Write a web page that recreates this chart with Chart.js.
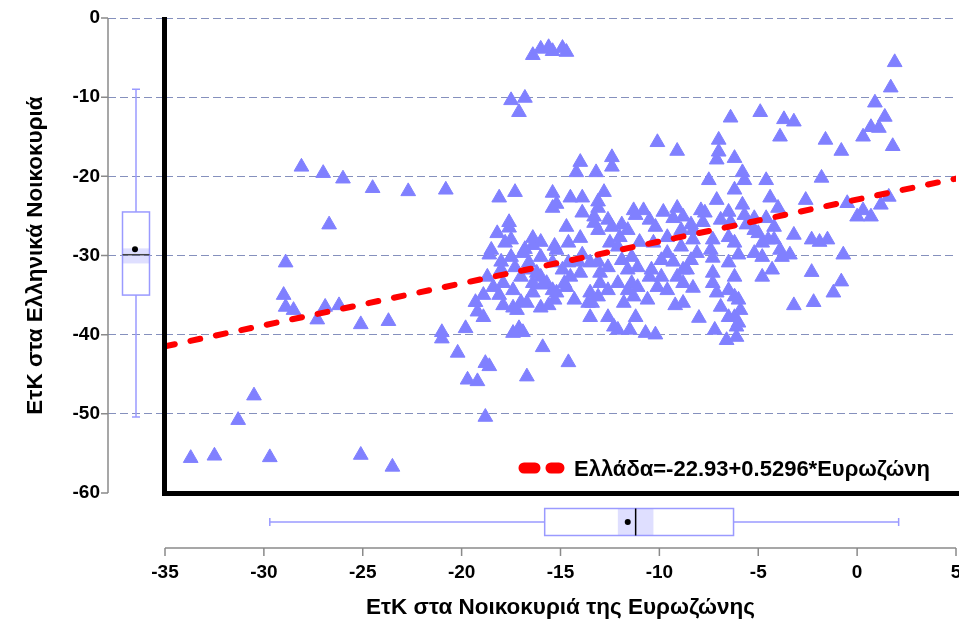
<!DOCTYPE html>
<html>
<head>
<meta charset="utf-8">
<script src="https://cdn.jsdelivr.net/npm/chart.js@4/dist/chart.umd.min.js"></script>
<style>
  html, body { margin: 0; padding: 0; background: #fff; }
</style>
</head>
<body>
<canvas id="scatterChart" width="959" height="625"></canvas>
<script>
// Ευρωζώνη (x) και Ελλάδα (y), τιμές όπως διαβάζονται από το διάγραμμα
const euroValues = [
  -33.7, -32.5, -31.3, -30.5, -29.7, -25.1, -23.5, -28.9, -29.0, -28.9, -28.5, -27.3, -26.9, -26.2, -25.1, -23.7,
  -28.1, -27.0, -26.0, -24.5, -22.7, -20.8, -26.7, -21.0, -21.0, -19.8, -20.2, -19.7, -19.2, -19.3, -19.2, -18.8,
  -18.8, -18.6, -18.9, -18.9, -18.7, -18.6, -18.5,
  -16.4, -16.0, -15.6, -15.4, -14.9, -14.7, -17.5, -16.8, -17.1, -18.1, -17.3, -15.4, -15.2, -17.6, -17.6, -18.2,
  -17.5, -17.8, -16.4, -16.0, -15.3, -16.8,
  -18.0, -17.9, -18.1, -17.9, -17.4, -17.0, -17.1, -17.4, -16.9, -16.7, -16.4, -16.0, -16.0, -15.6, -15.4, -15.4,
  -16.9, -16.0, -16.7, -15.9, -16.6, -15.2, -15.9, -15.3, -17.3, -16.4, -17.2,
  -10.1, -9.1, -14.0, -13.2, -12.4, -12.4, -14.2, -14.5, -13.9, -13.1, -12.8, -14.7, -14.6, -14.0, -13.9, -13.3,
  -13.1, -13.1, -12.6, -12.4, -11.9, -11.2, -10.8, -10.5, -10.2, -9.8, -9.1, -9.3, -8.8, -8.4,
  -14.9, -14.6, -14.1, -13.9, -13.5, -13.1, -12.6, -12.1, -11.9, -11.4, -11.1, -10.4, -9.9, -9.6, -9.3, -8.9,
  -8.8, -8.3, -8.1,
  -14.7, -14.5, -14.0, -13.5, -13.4, -13.1, -13.0, -12.3, -12.1, -11.6, -11.4, -11.2, -11.5, -10.6, -10.7, -10.2,
  -10.5, -10.1, -9.2, -9.1, -8.8, -8.3, -8.0, -14.6,
  1.9, 1.7, 0.9, 1.4, 0.7, 1.1, 0.3, 1.8, -1.6, -0.8, -6.4, -4.9, -3.7, -3.2, -3.9, -7.0, -7.0, -7.1, -6.2, -5.8,
  -5.7, -7.5, -4.6, -1.8, -6.2, -7.1, -4.4, -4.0, -2.6, -0.5, 0.0, 0.7, 1.2, 1.6, 0.3, -5.8, -7.9, -3.2, -2.3, -1.9,
  -1.5, -7.7, -7.8, -6.5, -6.4, -5.7, -5.6, -5.2, -4.6, -4.2, -6.5, -6.2, -5.0, -4.8, -4.5,
  -7.4, -7.3, -6.5, -6.0, -5.2, -4.8, -4.3, -3.8, -3.4, -0.7, -7.3, -7.3, -7.1, -6.9, -6.5, -6.2, -6.0, -6.2, -6.1,
  -7.2, -6.6, -6.1, -4.8, -3.2, -2.2, -2.3, -1.2, -0.8,
  -15.4, -13.3, -12.0, -11.6, -11.3, -11.0, -10.3, -9.6, -8.9, -7.3, -8.4, -12.5, -11.6, -11.1, -11.8, -11.3,
  -9.9, -9.6, -8.8, -8.6, -14.8, -15.2, -14.3, -13.6, -16.2, -17.0, -17.4, -16.4, -16.7, -15.7, -18.0, -17.5,
  -18.4, -13.0, -12.6, -12.1, -13.5, -12.6, -6.2, -5.9, -6.5, -6.0, -4.2, -3.9, -5.2, -8.3, -6.9
];
const greeceValues = [
  -55.6, -55.3, -50.8, -47.7, -55.5, -55.2, -56.7, -30.9, -35.0, -36.5, -36.9, -38.1, -36.5, -36.3, -38.7, -38.3,
  -18.8, -19.6, -20.3, -21.5, -21.9, -21.7, -26.1, -39.7, -40.5, -39.2, -42.3, -45.7, -45.9, -35.9, -37.1, -50.4,
  -43.6, -44.0, -35.0, -37.8, -32.7, -29.9, -29.3,
  -4.7, -3.9, -3.7, -4.2, -3.8, -4.3, -10.4, -10.1, -11.9, -22.7, -22.0, -22.1, -23.5, -25.8, -26.5, -27.2,
  -28.0, -28.4, -27.8, -28.3, -28.8, -29.2,
  -30.8, -33.5, -35.0, -36.3, -36.6, -35.9, -39.2, -39.8, -39.7, -31.8, -33.5, -32.7, -36.6, -36.3, -34.4, -30.9,
  -29.7, -30.2, -45.3, -41.6, -30.9, -29.3, -33.7, -35.6, -31.5, -28.7, -36.9,
  -15.7, -16.8, -18.2, -19.5, -17.6, -18.8, -19.5, -22.7, -22.7, -23.2, -22.0, -26.4, -28.4, -27.8, -24.6, -25.1,
  -24.0, -26.8, -25.5, -26.4, -26.1, -24.9, -24.3, -25.5, -26.4, -24.5, -24.0, -25.3, -25.1, -26.1,
  -31.8, -30.9, -30.8, -29.9, -30.9, -30.8, -31.5, -28.9, -30.6, -30.2, -31.5, -31.8, -30.6, -29.7, -30.8, -28.9,
  -31.8, -28.0, -29.7,
  -34.0, -32.7, -32.2, -34.7, -36.0, -35.2, -33.5, -39.0, -39.4, -34.4, -33.5, -37.8, -39.4, -35.6, -39.8, -40.0,
  -32.7, -34.0, -36.3, -32.7, -33.5, -34.1, -37.9, -43.5,
  -5.6, -8.8, -10.7, -12.5, -13.8, -13.9, -15.0, -16.2, -15.4, -16.8, -12.6, -11.9, -12.8, -13.1, -15.0, -15.4,
  -16.9, -17.9, -17.7, -19.5, -20.5, -20.5, -20.5, -20.2, -21.7, -23.0, -22.7, -24.0, -23.0, -23.4, -25.1, -25.1,
  -23.6, -22.6, -24.3, -23.6, -24.3, -27.4, -28.0, -28.3,
  -28.0, -24.6, -25.8, -24.5, -25.8, -24.9, -26.1, -25.3, -25.3, -26.4, -27.7, -28.4, -27.2, -28.4, -28.0,
  -29.3, -30.3, -30.9, -29.9, -29.7, -30.2, -31.8, -30.2, -29.9, -29.9, -32.2, -33.5, -34.7, -36.5, -34.4, -35.2,
  -35.6, -37.8, -39.0, -39.4, -40.7, -40.3, -32.7, -36.3, -35.9, -32.1, -34.7, -33.3,
  -24.0, -25.9, -27.7, -26.8, -24.3, -28.3, -28.4, -27.7, -26.8, -28.0, -30.6, -28.4, -31.8, -34.0, -36.0, -35.2,
  -32.7, -34.4, -36.0, -31.8, -33.5, -34.7, -35.6, -36.0, -32.2, -32.7, -34.4, -34.7, -36.0, -33.5, -31.8, -30.2,
  -34.0, -32.2, -34.4, -33.5, -37.8, -37.8, -32.7, -36.9, -37.8, -38.5, -28.0, -29.3, -26.8, -26.8, -25.5
];

// Άξονες
const xTicks = [-35, -30, -25, -20, -15, -10, -5, 0, 5];
const yTicks = [0, -10, -20, -30, -40, -50, -60];
const xTitle = 'ΕτΚ στα Νοικοκυριά της Ευρωζώνης';
const yTitle = 'ΕτΚ στα Ελληνικά Νοικοκυριά';

// Γραμμή παλινδρόμησης
const fitIntercept = -22.93;
const fitSlope = 0.5296;
const fitRange = [-35, 5];

// Θηκογράμματα: [κάτω άκρο, Q1, διάμεσος, Q3, άνω άκρο, μέσος, CI κάτω, CI άνω]
const euroBox = [-29.7, -15.8, -11.2, -6.25, 2.1, -11.6, -12.1, -10.3];
const greeceBox = [-50.4, -35.0, -29.9, -24.5, -9.0, -29.2, -31.0, -29.1];

const FONT = '"Liberation Sans", Arial, sans-serif';
const gridColor = '#8590bd';
const boxColor = '#9a9aff';

const scatterPoints = euroValues.map((v, i) => ({ x: v, y: greeceValues[i] }));
const fitPoints = fitRange.map(v => ({ x: v, y: fitIntercept + fitSlope * v }));

const extrasPlugin = {
    id: 'extras',
    beforeDatasetsDraw(chart) {
        const { ctx, chartArea: a, scales: { x, y } } = chart;
        const axX = a.left - 57;
        const axY = a.bottom + 55;
        ctx.save();

        // Γκρι άξονες με τις υποδιαιρέσεις τους
        ctx.strokeStyle = '#8a8a8a';
        ctx.lineWidth = 1.5;
        ctx.beginPath();
        ctx.moveTo(axX, y.getPixelForValue(yTicks[0]));
        ctx.lineTo(axX, y.getPixelForValue(yTicks[yTicks.length - 1]));
        yTicks.forEach(v => {
            const p = y.getPixelForValue(v);
            ctx.moveTo(axX - 7, p);
            ctx.lineTo(axX, p);
        });
        ctx.moveTo(x.getPixelForValue(xTicks[0]), axY);
        ctx.lineTo(x.getPixelForValue(xTicks[xTicks.length - 1]), axY);
        xTicks.forEach(v => {
            const p = x.getPixelForValue(v);
            ctx.moveTo(p, axY);
            ctx.lineTo(p, axY + 8);
        });
        ctx.stroke();

        // Θηκόγραμμα Ελλάδας (κάθετο)
        let [lo, q1, med, q3, hi, mean, ciLo, ciHi] = greeceBox.map(v => y.getPixelForValue(v));
        let c = a.left - 29, h = 13.5;
        ctx.fillStyle = 'rgba(150,150,255,0.3)';
        ctx.fillRect(c - h, ciHi, 2 * h, ciLo - ciHi);
        ctx.strokeStyle = boxColor;
        ctx.lineWidth = 1.5;
        ctx.beginPath();
        ctx.moveTo(c, hi); ctx.lineTo(c, q3);
        ctx.moveTo(c, q1); ctx.lineTo(c, lo);
        ctx.moveTo(c - 4, hi); ctx.lineTo(c + 4, hi);
        ctx.moveTo(c - 4, lo); ctx.lineTo(c + 4, lo);
        ctx.stroke();
        ctx.strokeRect(c - h, q3, 2 * h, q1 - q3);
        ctx.strokeStyle = '#444';
        ctx.beginPath();
        ctx.moveTo(c - h, med); ctx.lineTo(c + h, med);
        ctx.stroke();
        ctx.fillStyle = '#000';
        ctx.beginPath();
        ctx.arc(c - 1, mean, 3, 0, Math.PI * 2);
        ctx.fill();

        // Θηκόγραμμα Ευρωζώνης (οριζόντιο)
        [lo, q1, med, q3, hi, mean, ciLo, ciHi] = euroBox.map(v => x.getPixelForValue(v));
        c = a.bottom + 29;
        ctx.fillStyle = 'rgba(150,150,255,0.3)';
        ctx.fillRect(ciLo, c - h, ciHi - ciLo, 2 * h);
        ctx.strokeStyle = boxColor;
        ctx.beginPath();
        ctx.moveTo(lo, c); ctx.lineTo(q1, c);
        ctx.moveTo(q3, c); ctx.lineTo(hi, c);
        ctx.moveTo(lo, c - 4); ctx.lineTo(lo, c + 4);
        ctx.moveTo(hi, c - 4); ctx.lineTo(hi, c + 4);
        ctx.stroke();
        ctx.strokeRect(q1, c - h, q3 - q1, 2 * h);
        ctx.strokeStyle = '#000';
        ctx.beginPath();
        ctx.moveTo(med, c - h); ctx.lineTo(med, c + h);
        ctx.stroke();
        ctx.fillStyle = '#000';
        ctx.beginPath();
        ctx.arc(mean, c, 3, 0, Math.PI * 2);
        ctx.fill();

        ctx.restore();
    },
    afterDatasetsDraw(chart) {
        const { ctx, chartArea: a, width } = chart;
        ctx.save();

        // Μαύρο πλαίσιο αριστερά και κάτω
        ctx.strokeStyle = '#000';
        ctx.lineWidth = 5;
        ctx.beginPath();
        ctx.moveTo(a.left - 0.5, a.top - 1);
        ctx.lineTo(a.left - 0.5, a.bottom + 0.5);
        ctx.lineTo(width, a.bottom + 0.5);
        ctx.stroke();

        // Υπόμνημα
        const label = 'Ελλάδα=' + fitIntercept + '+' + fitSlope + '*Ευρωζώνη';
        ctx.font = 'bold 22px ' + FONT;
        ctx.textAlign = 'right';
        ctx.textBaseline = 'alphabetic';
        ctx.fillStyle = '#000';
        const textRight = a.right - 26;
        const baseY = a.bottom - 17;
        ctx.fillText(label, textRight, baseY);
        const textLeft = textRight - ctx.measureText(label).width;
        ctx.strokeStyle = '#ff0000';
        ctx.lineWidth = 11;
        ctx.lineCap = 'round';
        ctx.setLineDash([11, 16]);
        ctx.beginPath();
        ctx.moveTo(textLeft - 50, baseY - 8);
        ctx.lineTo(textLeft - 15, baseY - 8);
        ctx.stroke();

        ctx.restore();
    }
};

const ctx = document.getElementById('scatterChart').getContext('2d');
new Chart(ctx, {
    type: 'scatter',
    data: {
        datasets: [{
            type: 'line',
            label: 'Ελλάδα=' + fitIntercept + '+' + fitSlope + '*Ευρωζώνη',
            data: fitPoints,
            borderColor: '#ff0000',
            borderWidth: 6,
            borderDash: [10, 16],
            borderCapStyle: 'round',
            pointRadius: 0,
            fill: false,
            order: 0
        }, {
            label: 'Παρατηρήσεις',
            data: scatterPoints,
            pointStyle: 'triangle',
            pointRadius: 8.5,
            backgroundColor: '#8080ff',
            borderColor: '#8080ff',
            borderWidth: 1,
            order: 1
        }]
    },
    options: {
        responsive: false,
        animation: false,
        layout: { autoPadding: false, padding: { top: 18, right: 3, left: 0, bottom: 0 } },
        plugins: {
            legend: { display: false },
            tooltip: { enabled: false }
        },
        scales: {
            x: {
                type: 'linear',
                min: -35,
                max: 5,
                afterBuildTicks: s => { s.ticks = xTicks.map(v => ({ value: v })); },
                afterFit: s => { s.height = 132; s.paddingLeft = 0; s.paddingRight = 0; },
                grid: { drawOnChartArea: false, drawTicks: true, tickLength: 60, color: 'transparent' },
                border: { display: false },
                ticks: { color: '#000', font: { family: FONT, size: 19, weight: 'bold' }, padding: 8, maxRotation: 0, autoSkip: false },
                title: { display: true, text: xTitle, color: '#000', font: { family: FONT, size: 22.5, weight: 'bold' }, padding: { top: 0, bottom: 4 } }
            },
            y: {
                type: 'linear',
                min: -60,
                max: 0,
                afterBuildTicks: s => { s.ticks = yTicks.map(v => ({ value: v })); },
                afterFit: s => { s.width = 165; s.paddingTop = 0; s.paddingBottom = 0; },
                grid: {
                    color: gridColor,
                    lineWidth: 1,
                    tickLength: 57,
                    tickColor: c => (c.tick && c.tick.value === -60) ? 'transparent' : gridColor,
                    tickBorderDash: [8, 4]
                },
                border: { display: false, dash: [8, 4] },
                ticks: { color: '#000', font: { family: FONT, size: 19, weight: 'bold' }, padding: 8 },
                title: { display: true, text: yTitle, color: '#000', font: { family: FONT, size: 22.5, weight: 'bold' }, padding: { top: 22, bottom: 0 } }
            }
        }
    },
    plugins: [extrasPlugin]
});
</script>
</body>
</html>
